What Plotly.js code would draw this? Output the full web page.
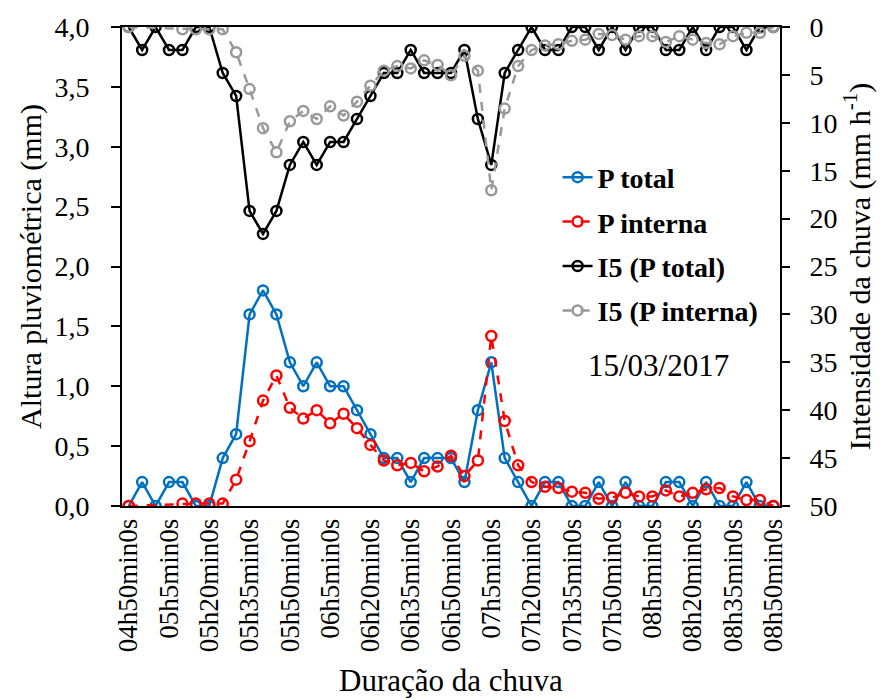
<!DOCTYPE html>
<html>
<head>
<meta charset="utf-8">
<script src="https://cdn.plot.ly/plotly-3.0.1.min.js"></script>
<style>
  html, body { margin: 0; padding: 0; background: #ffffff; }
  #chart { width: 887px; height: 700px; }
</style>
</head>
<body>
<div id="chart"></div>
<script>
// Time steps (5-minute intervals) of the rain event
const categories = [
  "04h50min0s", "04h55min0s", "05h0min0s", "05h5min0s", "05h10min0s", "05h15min0s",
  "05h20min0s", "05h25min0s", "05h30min0s", "05h35min0s", "05h40min0s", "05h45min0s",
  "05h50min0s", "05h55min0s", "06h0min0s", "06h5min0s", "06h10min0s", "06h15min0s",
  "06h20min0s", "06h25min0s", "06h30min0s", "06h35min0s", "06h40min0s", "06h45min0s",
  "06h50min0s", "06h55min0s", "07h0min0s", "07h5min0s", "07h10min0s", "07h15min0s",
  "07h20min0s", "07h25min0s", "07h30min0s", "07h35min0s", "07h40min0s", "07h45min0s",
  "07h50min0s", "07h55min0s", "08h0min0s", "08h5min0s", "08h10min0s", "08h15min0s",
  "08h20min0s", "08h25min0s", "08h30min0s", "08h35min0s", "08h40min0s", "08h45min0s",
  "08h50min0s"
];

// Rainfall depth per interval (mm)
const pTotal = [
  0, 0.2, 0, 0.2, 0.2, 0, 0, 0.4, 0.6, 1.6, 1.8, 1.6, 1.2, 1.0, 1.2, 1.0, 1.0,
  0.8, 0.6, 0.4, 0.4, 0.2, 0.4, 0.4, 0.4, 0.2, 0.8, 1.2, 0.4, 0.2, 0, 0.2, 0.2,
  0, 0, 0.2, 0, 0.2, 0, 0, 0.2, 0.2, 0, 0.2, 0, 0, 0.2, 0, 0
];
const pInterna = [
  0, null, null, null, 0.02, 0.02, 0.02, 0.02, 0.22, 0.54, 0.88, 1.09, 0.82, 0.73, 0.80, 0.69, 0.77,
  0.65, 0.51, 0.38, 0.34, 0.36, 0.29, 0.33, 0.42, 0.25, 0.38, 1.42, 0.71, 0.34, 0.20, 0.16, 0.15,
  0.12, 0.11, 0.06, 0.07, 0.11, 0.08, 0.08, 0.13, 0.08, 0.11, 0.14, 0.15, 0.08, 0.05, 0.05, 0
];

// 5-minute rainfall intensity (mm h-1)
const i5Total = [
  0, 2.4, 0, 2.4, 2.4, 0, 0, 4.8, 7.2, 19.2, 21.6, 19.2, 14.4, 12, 14.4, 12, 12,
  9.6, 7.2, 4.8, 4.8, 2.4, 4.8, 4.8, 4.8, 2.4, 9.6, 14.4, 4.8, 2.4, 0, 2.4, 2.4,
  0, 0, 2.4, 0, 2.4, 0, 0, 2.4, 2.4, 0, 2.4, 0, 0, 2.4, 0, 0
];
const i5Interna = [
  0, null, null, null, 0.24, 0.24, 0.24, 0.24, 2.64, 6.48, 10.56, 13.08, 9.84, 8.76, 9.6, 8.28, 9.24,
  7.8, 6.12, 4.56, 4.08, 4.32, 3.48, 3.96, 5.04, 3.0, 4.56, 17.04, 8.52, 4.08, 2.4, 1.92, 1.8,
  1.44, 1.32, 0.72, 0.84, 1.32, 0.96, 0.96, 1.56, 0.96, 1.32, 1.68, 1.8, 0.96, 0.6, 0.6, 0
];

const seriesNames = ["P total", "P interna", "I5 (P total)", "I5 (P interna)"];
const eventDate = "15/03/2017";

// every third time step carries a label
const labelledSteps = categories.filter((c, i) => i % 3 === 0);

const FONT = "Liberation Serif";

function series(name, y, color, dash, axis, group) {
  return {
    type: "scatter",
    mode: "lines+markers",
    name: name,
    x: categories,
    y: y,
    yaxis: axis,
    connectgaps: true,
    legendgroup: group,
    line: { color: color, width: 2.5, dash: dash },
    marker: { symbol: "circle-open", size: 10, color: color, line: { color: color, width: 2.5 } }
  };
}

const traces = [
  series(seriesNames[0], pTotal, "#0070C0", "solid", "y", "g1"),
  series(seriesNames[1], pInterna, "#FF0000", "dash", "y", "g2"),
  series(seriesNames[2], i5Total, "#000000", "solid", "y2", "g3"),
  series(seriesNames[3], i5Interna, "#999999", "dash", "y2", "g4")
];

const layout = {
  width: 887,
  height: 700,
  margin: { l: 122, r: 107, t: 27, b: 194 },
  paper_bgcolor: "#ffffff",
  plot_bgcolor: "#ffffff",
  separators: ",.",
  font: { family: FONT, color: "#000000", size: 28 },
  showlegend: true,
  legend: {
    x: 0.662, y: 0.738, xanchor: "left", yanchor: "top",
    bgcolor: "rgba(0,0,0,0)",
    traceorder: "grouped",
    tracegroupgap: 5,
    font: { family: FONT, size: 28, color: "#000000", weight: "bold" }
  },
  // category axis: labels on every third step
  xaxis: {
    type: "category",
    categoryarray: categories,
    range: [-0.5, categories.length - 0.5],
    tickmode: "array",
    tickvals: labelledSteps,
    ticktext: labelledSteps,
    ticks: "",
    tickangle: -90,
    tickfont: { family: FONT, size: 27 },
    showline: true,
    linecolor: "#000000",
    linewidth: 2,
    mirror: true,
    showgrid: false,
    zeroline: false,
    automargin: false,
    title: { text: "Duração da chuva", font: { family: FONT, size: 31 }, standoff: 18 }
  },
  // companion axis carrying a tick at each step boundary
  xaxis2: {
    overlaying: "x",
    anchor: "y",
    side: "bottom",
    range: [-0.5, categories.length - 0.5],
    tickmode: "linear",
    tick0: -0.5,
    dtick: 1,
    ticks: "outside",
    ticklen: 8,
    tickwidth: 2,
    tickcolor: "#000000",
    showticklabels: false,
    showline: false,
    showgrid: false,
    zeroline: false,
    automargin: false
  },
  yaxis: {
    range: [0, 4],
    tickmode: "linear",
    tick0: 0,
    dtick: 0.5,
    tickformat: ".1f",
    ticks: "outside",
    ticklen: 9,
    tickwidth: 2,
    tickcolor: "#000000",
    ticklabelstandoff: 16,
    tickfont: { family: FONT, size: 28 },
    showline: true,
    linecolor: "#000000",
    linewidth: 2,
    showgrid: false,
    zeroline: false,
    automargin: false,
    title: { text: "Altura pluviométrica (mm)", font: { family: FONT, size: 30 }, standoff: 4 }
  },
  yaxis2: {
    overlaying: "y",
    side: "right",
    range: [50, 0],
    tickmode: "linear",
    tick0: 0,
    dtick: 5,
    ticks: "outside",
    ticklen: 8,
    tickwidth: 2,
    tickcolor: "#000000",
    ticklabelstandoff: 14,
    tickfont: { family: FONT, size: 28 },
    showline: true,
    linecolor: "#000000",
    linewidth: 2,
    showgrid: false,
    zeroline: false,
    automargin: false,
    title: { text: "Intensidade da chuva (mm h<sup>-1</sup>)", font: { family: FONT, size: 30 }, standoff: 12 }
  },
  annotations: [{
    text: eventDate,
    xref: "paper", yref: "paper",
    x: 0.815, y: 0.294,
    xanchor: "center", yanchor: "middle",
    showarrow: false,
    font: { family: FONT, size: 31, color: "#000000" }
  }]
};

Plotly.newPlot("chart", traces, layout, { displayModeBar: false, staticPlot: true });
</script>
</body>
</html>
